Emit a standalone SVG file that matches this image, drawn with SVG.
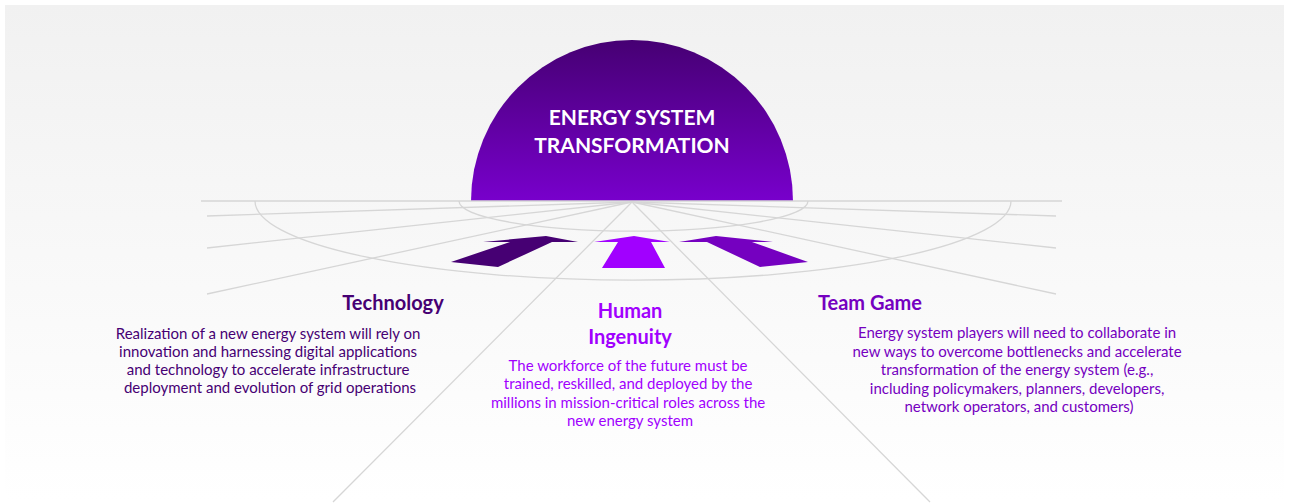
<svg xmlns="http://www.w3.org/2000/svg" width="1289" height="504" viewBox="0 0 1289 504">
<defs>
<linearGradient id="bg" x1="0" y1="0" x2="0" y2="1">
<stop offset="0" stop-color="#f1f1f1"/>
<stop offset="1" stop-color="#ffffff"/>
</linearGradient>
<linearGradient id="sun" x1="0" y1="0" x2="0" y2="1">
<stop offset="0" stop-color="#460073"/>
<stop offset="1" stop-color="#7800cc"/>
</linearGradient>
<style>
.grid{fill:none;stroke:#d6d6d6;stroke-width:1.3}
.hd{font-family:Lato,"Open Sans",sans-serif;font-weight:bold;font-size:20px;text-anchor:middle}
.bd{font-family:Lato,"Open Sans",sans-serif;font-size:15px;text-anchor:middle}
.title{font-family:Lato,"Open Sans",sans-serif;font-weight:bold;font-size:21px;fill:#ffffff;text-anchor:middle}
</style>
</defs>
<rect x="0" y="0" width="1289" height="504" fill="#ffffff"/>
<rect x="5" y="5" width="1279" height="495" fill="url(#bg)"/>
<g id="sun-node">
<path d="M471 201 A161 161 0 0 1 793 201 Z" fill="url(#sun)"/>
<text class="title" x="632" y="125">ENERGY SYSTEM</text>
<text class="title" x="632" y="153">TRANSFORMATION</text>
</g>
<g id="connectors">
<line class="grid" x1="201" y1="201" x2="1062" y2="201"/>
<line class="grid" x1="632" y1="202" x2="207" y2="216"/>
<line class="grid" x1="632" y1="202" x2="207" y2="248"/>
<line class="grid" x1="632" y1="202" x2="207" y2="294"/>
<line class="grid" x1="632" y1="202" x2="1056" y2="216"/>
<line class="grid" x1="632" y1="202" x2="1056" y2="248"/>
<line class="grid" x1="632" y1="202" x2="1056" y2="294"/>
<line class="grid" x1="632" y1="202" x2="333" y2="502"/>
<line class="grid" x1="632" y1="202" x2="930" y2="502"/>
<path class="grid" d="M255 201 A377 79 0 0 0 1011 201"/>
<path class="grid" d="M459 201 A174 30 0 0 0 808 201"/>
</g>
<g id="arrow-technology">
<polygon points="451,262 510,242 483,242 546,236 578,242 552,242 498,267" fill="#460073"/>
</g>
<g id="arrow-human">
<polygon points="602,268 618,242 594,242 634,236 670,242 651,242 665,268" fill="#a100ff"/>
</g>
<g id="arrow-team">
<polygon points="808,262 752,242 773,242 716,236 679,242 707,242 760,267" fill="#7500c0"/>
</g>
<g id="technology">
<text class="hd" x="393" y="310" fill="#460073">Technology</text>
<text class="bd" fill="#460073">
<tspan x="270" y="339">Realization of a new energy system will rely on</tspan>
<tspan x="270" y="357">innovation and harnessing digital applications</tspan>
<tspan x="270" y="375">and technology to accelerate infrastructure</tspan>
<tspan x="270" y="393">deployment and evolution of grid operations</tspan>
</text>
</g>
<g id="human-ingenuity">
<text class="hd" x="630" y="318" fill="#a100ff">Human</text>
<text class="hd" x="630" y="344" fill="#a100ff">Ingenuity</text>
<text class="bd" fill="#a100ff">
<tspan x="630" y="371">The workforce of the future must be</tspan>
<tspan x="630" y="389">trained, reskilled, and deployed by the</tspan>
<tspan x="630" y="408">millions in mission-critical roles across the</tspan>
<tspan x="630" y="426">new energy system</tspan>
</text>
</g>
<g id="team-game">
<text class="hd" x="870" y="310" fill="#7500c0">Team Game</text>
<text class="bd" fill="#7500c0">
<tspan x="1019" y="338">Energy system players will need to collaborate in</tspan>
<tspan x="1019" y="357">new ways to overcome bottlenecks and accelerate</tspan>
<tspan x="1019" y="375">transformation of the energy system (e.g.,</tspan>
<tspan x="1019" y="394">including policymakers, planners, developers,</tspan>
<tspan x="1019" y="412">network operators, and customers)</tspan>
</text>
</g>
</svg>
